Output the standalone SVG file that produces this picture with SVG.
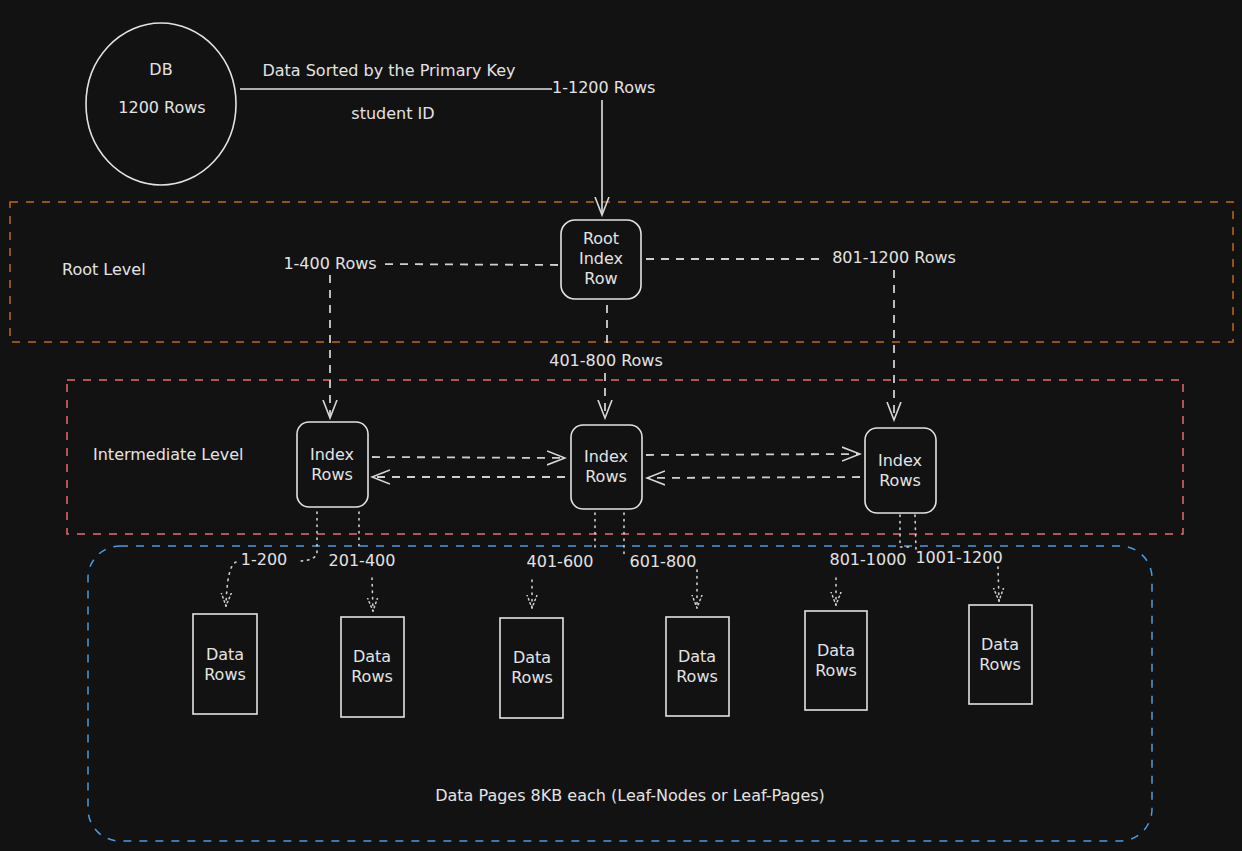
<svg xmlns="http://www.w3.org/2000/svg" width="1242" height="851" viewBox="0 0 1242 851">
<style>
text{font-family:"DejaVu Sans","Liberation Sans",sans-serif;font-size:16px;fill:#e3e3e3;text-anchor:middle;dominant-baseline:middle}
.lt{text-anchor:start}
.node{fill:#121212;stroke:#e3e3e3;stroke-width:1.6}
.dash{fill:none;stroke:#cfcfcf;stroke-width:1.8;stroke-dasharray:8 7}
.dot{fill:none;stroke:#cfcfcf;stroke-width:1.6;stroke-dasharray:1.5 5;stroke-linecap:round}
.solid{fill:none;stroke:#e3e3e3;stroke-width:1.6}
</style>
<defs>
<marker id="ah" viewBox="0 0 20 20" refX="18" refY="10" markerWidth="20" markerHeight="20" markerUnits="userSpaceOnUse" orient="auto">
<path d="M0,3 L18,10 L0,17" fill="none" stroke="#d8d8d8" stroke-width="1.6"/>
</marker>
<marker id="ad" viewBox="0 0 14 14" refX="13" refY="7" markerWidth="14" markerHeight="14" markerUnits="userSpaceOnUse" orient="auto">
<path d="M0,2 L13,7 L0,12" fill="none" stroke="#cfcfcf" stroke-width="1.5" stroke-dasharray="1.5 3" stroke-linecap="round"/>
</marker>
</defs>
<rect width="1242" height="851" fill="#121212"/>

<g id="frames">
<rect id="root-level" x="10" y="202" width="1223" height="140" fill="none" stroke="#c06a0c" stroke-width="1.5" stroke-dasharray="8 8"/>
<rect id="intermediate-level" x="67" y="380" width="1116" height="154" fill="none" stroke="#e86b6b" stroke-width="1.5" stroke-dasharray="8 8"/>
<rect id="leaf-level" x="88" y="546" width="1064" height="295" rx="32" fill="none" stroke="#4a9be0" stroke-width="1.5" stroke-dasharray="8 8"/>
<text class="lt" x="62" y="270">Root Level</text>
<text class="lt" x="93" y="455">Intermediate Level</text>
<text x="630" y="796">Data Pages 8KB each (Leaf-Nodes or Leaf-Pages)</text>
</g>

<g id="connectors">
<path class="solid" d="M240,89 L552,89"/>
<path class="solid" d="M602,100 L602,215" marker-end="url(#ah)"/>
<path class="dash" d="M558,265 L380,264"/>
<path class="dash" d="M330,275 L330,418" marker-end="url(#ah)"/>
<path class="dash" d="M646,259 L826,259"/>
<path class="dash" d="M894,270 L894,420" marker-end="url(#ah)"/>
<path class="dash" d="M607,305 L607,345"/>
<path class="dash" d="M605,373 L605,418" marker-end="url(#ah)"/>
<path class="dash" d="M372,457 L565,458" marker-end="url(#ah)"/>
<path class="dash" d="M565,477 L372,477" marker-end="url(#ah)"/>
<path class="dash" d="M646,455 L860,454" marker-end="url(#ah)"/>
<path class="dash" d="M860,477 L647,478" marker-end="url(#ah)"/>

<path class="dot" d="M317,512 L317,552 Q316,561 298,561"/>
<path class="dot" d="M236,562 Q227,566 226,606" marker-end="url(#ad)"/>
<path class="dot" d="M359,512 L359,549"/>
<path class="dot" d="M372,578 L373,611" marker-end="url(#ad)"/>
<path class="dot" d="M595,513 L595,549"/>
<path class="dot" d="M532,580 L532,608" marker-end="url(#ad)"/>
<path class="dot" d="M624,513 L624,556"/>
<path class="dot" d="M697,570 L697,608" marker-end="url(#ad)"/>
<path class="dot" d="M900,515 L900,547 L910,547"/>
<path class="dot" d="M836,578 L836,605" marker-end="url(#ad)"/>
<path class="dot" d="M915,515 L916,550"/>
<path class="dot" d="M998,567 L999,601" marker-end="url(#ad)"/>

<text x="389" y="71">Data Sorted by the Primary Key</text>
<text x="393" y="114">student ID</text>
<text class="lt" x="552" y="88">1-1200 Rows</text>
<text x="330" y="264">1-400 Rows</text>
<text x="894" y="258">801-1200 Rows</text>
<text x="606" y="361">401-800 Rows</text>
<text x="264" y="560">1-200</text>
<text x="362" y="561">201-400</text>
<text x="560" y="562">401-600</text>
<text x="663" y="562">601-800</text>
<text x="868" y="560">801-1000</text>
<text x="959" y="558">1001-1200</text>
</g>

<g id="db">
<ellipse cx="161" cy="104" rx="75" ry="81" fill="none" stroke="#e3e3e3" stroke-width="1.6"/>
<text x="161" y="70">DB</text>
<text x="162" y="108">1200 Rows</text>
</g>

<g id="root-index">
<rect class="node" x="561" y="220" width="80" height="79" rx="14"/>
<text x="601" y="239">Root</text><text x="601" y="259">Index</text><text x="601" y="279">Row</text>
</g>

<g id="index-1">
<rect class="node" x="297" y="422" width="71" height="85" rx="12"/>
<text x="332" y="455">Index</text><text x="332" y="475">Rows</text>
</g>
<g id="index-2">
<rect class="node" x="571" y="425" width="71" height="84" rx="12"/>
<text x="606" y="457">Index</text><text x="606" y="477">Rows</text>
</g>
<g id="index-3">
<rect class="node" x="865" y="428" width="71" height="85" rx="12"/>
<text x="900" y="461">Index</text><text x="900" y="481">Rows</text>
</g>

<g id="data-1"><rect class="node" x="193" y="614" width="64" height="100"/><text x="225" y="655">Data</text><text x="225" y="675">Rows</text></g>
<g id="data-2"><rect class="node" x="341" y="617" width="63" height="100"/><text x="372" y="657">Data</text><text x="372" y="677">Rows</text></g>
<g id="data-3"><rect class="node" x="500" y="618" width="63" height="100"/><text x="532" y="658">Data</text><text x="532" y="678">Rows</text></g>
<g id="data-4"><rect class="node" x="666" y="617" width="63" height="99"/><text x="697" y="657">Data</text><text x="697" y="677">Rows</text></g>
<g id="data-5"><rect class="node" x="805" y="611" width="62" height="99"/><text x="836" y="651">Data</text><text x="836" y="671">Rows</text></g>
<g id="data-6"><rect class="node" x="969" y="605" width="63" height="99"/><text x="1000" y="645">Data</text><text x="1000" y="665">Rows</text></g>
</svg>
